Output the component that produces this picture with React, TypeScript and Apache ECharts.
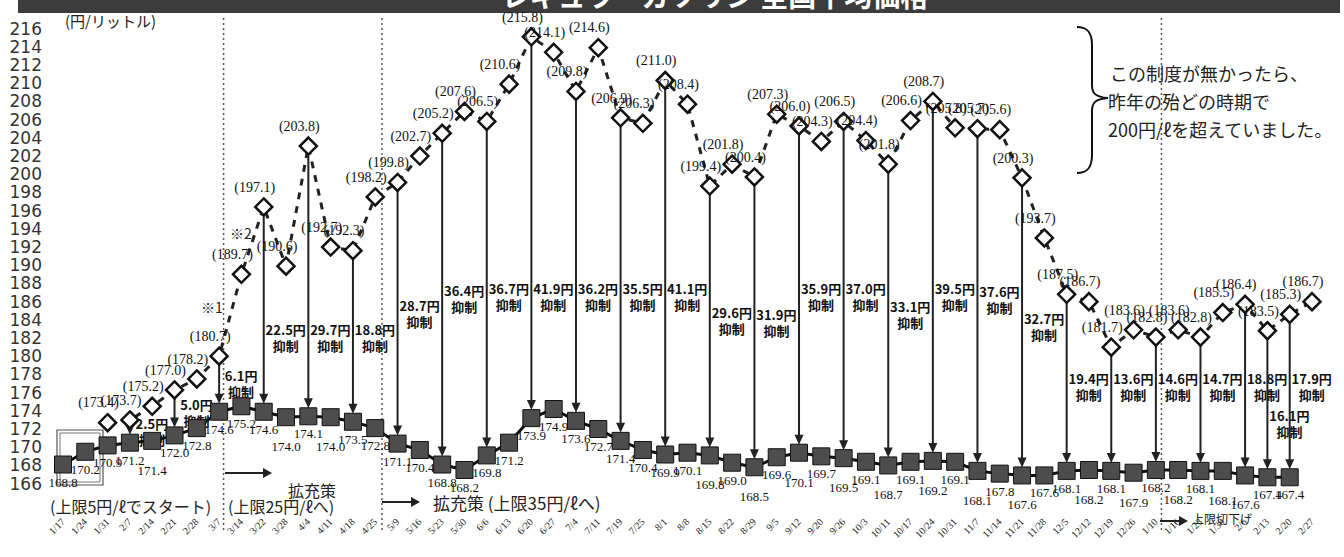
import React, { useEffect, useRef } from "react";
import * as echarts from "echarts";

const dates = ["1/17","1/24","1/31","2/7","2/14","2/21","2/28","3/7","3/14","3/22","3/28","4/4","4/11","4/18","4/25","5/9","5/16","5/23","5/30","6/6","6/13","6/20","6/27","7/4","7/11","7/19","7/25","8/1","8/8","8/15","8/22","8/29","9/5","9/12","9/20","9/26","10/3","10/11","10/17","10/24","10/31","11/7","11/14","11/21","11/28","12/5","12/12","12/19","12/26","1/10","1/16","1/23","1/30","2/6","2/13","2/20","2/27"];

const actualPrice: (number | null)[] = [168.8,170.2,170.9,171.2,171.4,172.0,172.8,174.6,175.2,174.6,174.0,174.1,174.0,173.5,172.8,171.1,170.4,168.8,168.2,169.8,171.2,173.9,174.9,173.6,172.7,171.4,170.4,169.9,170.1,169.8,169.0,168.5,169.6,170.1,169.7,169.5,169.1,168.7,169.1,169.2,169.1,168.1,167.8,167.6,167.6,168.1,168.2,168.1,167.9,168.2,168.2,168.1,168.1,167.6,167.4,167.4,null];

const noSubsidyPrice: (number | null)[] = [null,null,173.4,173.7,175.2,177.0,178.2,180.7,189.7,197.1,190.6,203.8,192.7,192.3,198.2,199.8,202.7,205.2,207.6,206.5,210.6,215.8,214.1,209.8,214.6,206.9,206.3,211.0,208.4,199.4,201.8,200.4,207.3,206.0,204.3,206.5,204.4,201.8,206.6,208.7,205.8,205.7,205.6,200.3,193.7,187.5,186.7,181.7,183.6,182.8,183.6,182.8,185.5,186.4,183.5,185.3,186.7];

const reliefDates = ["2/7","2/21","3/7","3/22","4/4","4/18","5/9","5/23","6/6","6/20","7/4","7/19","8/1","8/15","8/29","9/12","9/26","10/11","10/24","11/7","11/21","12/5","12/19","1/10","1/23","2/6","2/13","2/20"];
const reliefAmounts = [2.5,5.0,6.1,22.5,29.7,18.8,28.7,36.4,36.7,41.9,36.2,35.5,41.1,29.6,31.9,35.9,37.0,33.1,39.5,37.6,32.7,19.4,13.6,14.6,14.7,18.8,16.1,17.9];

const BRACE = "M0,0 C10,0 15,5 15,18 L15,58 C15,66 18,70 31,71 C18,72 15,76 15,84 L15,128 C15,141 10,146 0,146";
echarts.graphic.registerShape("brace", echarts.graphic.extendPath(BRACE, {}) as any);

const SERIF = "'Liberation Serif', serif";
const JP = "'Noto Sans CJK JP', sans-serif";

function lowerLabel(i: number): boolean {
  if (i >= 29 && i <= 43) return i % 2 === 1;
  if (i >= 46 && i <= 52) return i % 2 === 0;
  if (i === 53) return true;
  return i === 4 || i === 10 || i === 12;
}

function buildRelief() {
  const rows: number[][] = [];
  let prevIdx = -10;
  let prevLowered = false;
  reliefDates.forEach((d, k) => {
    const i = dates.indexOf(d);
    const hi = noSubsidyPrice[i] as number;
    const lo = actualPrice[i] as number;
    const mid = (hi + lo) / 2;
    let lv: number;
    let lowered = false;
    if (i < 15) lv = Math.min(mid, 182.8);
    else if (i <= 43) lv = Math.min(mid, 187.3);
    else if (prevIdx === i - 1 && !prevLowered) { lv = 173.3; lowered = true; }
    else lv = 177.4;
    rows.push([i, hi, lo, reliefAmounts[k], lv]);
    prevIdx = i;
    prevLowered = lowered;
  });
  return rows;
}

export default function App() {
  const ref = useRef<HTMLDivElement>(null);
  useEffect(() => {
    const chart = echarts.init(ref.current!, null, { renderer: "svg" });
    const option: any = {
      animation: false,
      backgroundColor: "#ffffff",
      grid: { left: 63, right: 32, top: 35, bottom: 67 },
      xAxis: {
        type: "category",
        data: dates,
        boundaryGap: false,
        axisLine: { show: false },
        axisTick: { show: false },
        axisLabel: { interval: 0, rotate: 45, margin: 30, fontSize: 10, fontFamily: SERIF, color: "#222" },
        splitLine: { show: false },
      },
      yAxis: {
        type: "value",
        min: 166,
        max: 216,
        interval: 2,
        axisLine: { show: false },
        axisTick: { show: false },
        splitLine: { show: false },
        axisLabel: { margin: 21, fontSize: 17, verticalAlign: "bottom", lineHeight: 13, fontFamily: "'DejaVu Sans', sans-serif", color: "#333" },
      },
      series: [
        {
          type: "custom",
          z: 1,
          silent: true,
          encode: { x: 0, y: 1 },
          data: buildRelief(),
          renderItem: (params: any, api: any) => {
            const i = api.value(0);
            const hi = api.coord([i, api.value(1)]);
            const lo = api.coord([i, api.value(2)]);
            const lab = api.coord([i, api.value(4)]);
            const amt = Number(api.value(3));
            const x = hi[0];
            const tip = lo[1] - 8;
            const head = 10;
            return {
              type: "group",
              children: [
                { type: "line", shape: { x1: x, y1: hi[1], x2: x, y2: tip - head + 1 }, style: { stroke: "#222", lineWidth: 2 } },
                { type: "polygon", shape: { points: [[x - 4.5, tip - head], [x + 4.5, tip - head], [x, tip]] }, style: { fill: "#222" } },
                {
                  type: "text",
                  style: {
                    x: x + 22, y: lab[1], text: amt.toFixed(1) + "円\n抑制",
                    align: "center", verticalAlign: "middle",
                    fontSize: 13, fontWeight: "bold", fontFamily: JP, fill: "#111", lineHeight: 16,
                  },
                },
              ],
            };
          },
        },
        {
          name: "補助なし",
          type: "line",
          z: 2,
          data: noSubsidyPrice,
          symbol: "diamond",
          symbolSize: 17,
          lineStyle: { color: "#222", width: 3, type: [7, 7] },
          itemStyle: { color: "#ffffff", borderColor: "#111", borderWidth: 2.5 },
          label: {
            show: true,
            position: "top",
            distance: 3,
            offset: [-9, 0],
            fontSize: 14,
            fontFamily: SERIF,
            color: "#111",
            formatter: (p: any) => "(" + Number(p.value).toFixed(1) + ")",
          },
        },
        {
          name: "実際",
          type: "line",
          z: 3,
          data: actualPrice.map((v, i) => (v == null ? null : { value: v, label: { offset: [0, lowerLabel(i) ? 12 : 0] } })),
          symbol: "rect",
          symbolSize: 17,
          lineStyle: { color: "#111", width: 3 },
          itemStyle: { color: "#4d4d4d", borderColor: "#111", borderWidth: 1 },
          label: {
            show: true,
            position: "bottom",
            distance: 2,
            fontSize: 13,
            fontFamily: SERIF,
            color: "#111",
            formatter: (p: any) => Number(p.value).toFixed(1),
          },
        },
      ],
    };
    chart.setOption(option);

    const px = (d: string) => chart.convertToPixel({ xAxisIndex: 0 } as any, d) as unknown as number;
    const between = (a: string, b: string, f: number) => px(a) + (px(b) - px(a)) * f;
    const dividers = [between("3/7", "3/14", 0.2), between("4/25", "5/9", 0.3), between("1/10", "1/16", 0.25)];
    const txt = (text: string, x: number, y: number, size: number, extra: any = {}) => ({
      type: "text", x, y, silent: true,
      style: { text, fontSize: size, fontFamily: JP, fill: "#222", verticalAlign: "middle", ...extra },
    });
    const arrow = (x1: number, x2: number, y: number) => ([
      { type: "line", silent: true, shape: { x1, y1: y, x2: x2 - 8, y2: y }, style: { stroke: "#222", lineWidth: 2 } },
      { type: "polygon", silent: true, shape: { points: [[x2 - 9, y - 5], [x2 - 9, y + 5], [x2, y]] }, style: { fill: "#222" } },
    ]);
    const graphic: any[] = [
      { type: "rect", silent: true, shape: { x: 18, y: 0, width: 1322, height: 13 }, style: { fill: "#3c3c3c" } },
      { type: "text", silent: true, style: { x: 715, y: 9, text: "レギュラーガソリン 全国平均価格", align: "center", verticalAlign: "bottom", fontSize: 28, fontWeight: "bold", fontFamily: JP, fill: "#ffffff" } },
      txt("(円/リットル)", 65, 20, 15),
      ...dividers.map((x) => ({ type: "line", silent: true, shape: { x1: x, y1: 18, x2: x, y2: 532 }, style: { stroke: "#555", lineWidth: 1.5, lineDash: [2, 3] } })),
      { type: "rect", silent: true, shape: { x: 57, y: 430, width: 46, height: 55 }, style: { fill: "none", stroke: "#555", lineWidth: 1.2 } },
      { type: "rect", silent: true, shape: { x: 60, y: 433, width: 40, height: 49 }, style: { fill: "none", stroke: "#777", lineWidth: 1 } },
      txt("※1", 201, 307, 14),
      txt("※2", 230, 233, 14),
      txt("(上限5円/ℓでスタート)", 50, 506, 16),
      txt("(上限25円/ℓへ)", 228, 506, 16),
      ...arrow(225, 272, 473),
      txt("拡充策", 288, 490, 16),
      ...arrow(382, 420, 502),
      txt("拡充策 (上限35円/ℓへ)", 433, 502, 17),
      ...arrow(1160, 1188, 521),
      txt("上限切下げ", 1192, 518, 12),
      { type: "brace", silent: true, x: 1077, y: 27, style: { fill: "none", stroke: "#111", lineWidth: 2 } },
      txt("この制度が無かったら、", 1110, 73, 18),
      txt("昨年の殆どの時期で", 1108, 101, 18),
      txt("200円/ℓを超えていました。", 1108, 129, 18),
    ];
    chart.setOption({ graphic });
    return () => chart.dispose();
  }, []);
  return <div ref={ref} style={{ position: "absolute", left: 0, top: 0, width: 1344, height: 557 }} />;
}
